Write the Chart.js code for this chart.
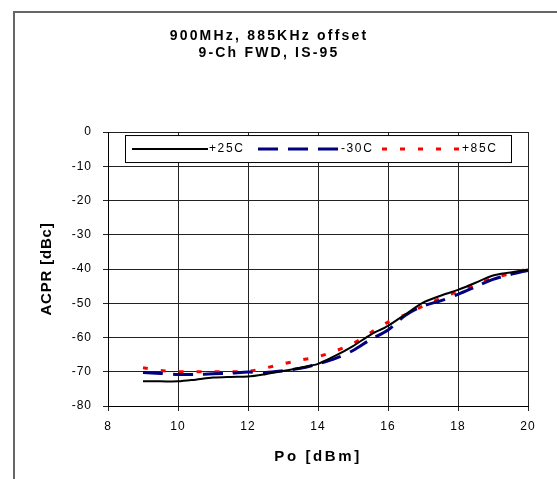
<!DOCTYPE html>
<html><head><meta charset="utf-8">
<script src="https://cdn.jsdelivr.net/npm/chart.js@4.4.0/dist/chart.umd.min.js"></script>
<style>html,body{margin:0;padding:0;background:#fff}#wrap{width:557px;height:479px;position:relative}</style>
</head><body><div id="wrap"><canvas id="c" width="557" height="479"></canvas></div>
<script>
const titleLines = ['900MHz, 885KHz offset', '9-Ch FWD, IS-95'];
const xAxisTitle = 'Po [dBm]';
const yAxisTitle = 'ACPR [dBc]';
const seriesLabels = ['+25C', '-30C', '+85C'];
const po = [9, 9.5, 10, 10.5, 11, 11.5, 12, 12.5, 13, 13.5, 14, 14.5, 15, 15.5, 16, 16.5, 17, 17.5, 18, 18.5, 19, 19.5, 20];
const acprP25 = [-72.8, -72.8, -72.8, -72.3, -71.7, -71.5, -71.4, -70.7, -69.8, -68.8, -67.7, -65.3, -62.5, -59.2, -56.6, -53.2, -49.8, -47.8, -46.1, -44.0, -41.9, -41.0, -40.1];
const acprM30 = [-70.2, -70.5, -70.8, -70.8, -70.6, -70.4, -70.1, -70.2, -69.7, -69.0, -67.7, -66.1, -63.8, -60.6, -57.8, -53.5, -50.8, -49.3, -47.4, -45.2, -43.0, -41.6, -40.4];
const acprP85 = [-68.8, -69.6, -70.0, -70.0, -70.0, -70.0, -69.9, -68.9, -67.7, -66.6, -65.6, -63.9, -61.8, -58.6, -55.5, -53.3, -50.8, -48.6, -46.5, -44.5, -42.7, -41.3, -40.0];
const xTickValues = [8, 10, 12, 14, 16, 18, 20];
const yTickValues = [0, -10, -20, -30, -40, -50, -60, -70, -80];

const FONT = "'Liberation Sans', Arial, sans-serif";
const toPts = ys => po.map((x, i) => ({x: x, y: ys[i]}));

const styles = [
  {color: '#000000', width: 2, dash: []},
  {color: '#000080', width: 3, dash: [20, 10]},
  {color: '#FF0000', width: 3, dash: [5, 13]}
];
const seriesData = [acprP25, acprM30, acprP85];

const frameAndSpacing = {
  id: 'frameAndSpacing',
  beforeDraw(chart) {
    const ctx = chart.ctx;
    ctx.save();
    ctx.fillStyle = '#fff';
    ctx.fillRect(0, 0, chart.width, chart.height);
    ctx.strokeStyle = '#666';
    ctx.lineWidth = 2;
    ctx.beginPath();
    ctx.moveTo(14, chart.height);
    ctx.lineTo(14, 12);
    ctx.lineTo(chart.width, 12);
    ctx.stroke();
    ctx.restore();
    const tb = chart.titleBlock;
    if (tb && !tb._wrapped) {
      const orig = tb.draw.bind(tb);
      tb.draw = function() { ctx.save(); ctx.letterSpacing = '2.2px'; orig(); ctx.restore(); };
      tb._wrapped = true;
    }
    [['x', '2.6px'], ['y', '0.8px']].forEach(([id, sp]) => {
      const s = chart.scales[id];
      if (s && !s._wrappedTitle) {
        const origT = s.drawTitle.bind(s);
        s.drawTitle = function() { ctx.save(); ctx.letterSpacing = sp; origT(); ctx.restore(); };
        const origL = s.drawLabels.bind(s);
        s.drawLabels = function(a) { ctx.save(); ctx.letterSpacing = '1px'; origL(a); ctx.restore(); };
        s._wrappedTitle = true;
      }
    });
  }
};

const boxLegend = {
  id: 'boxLegend',
  afterDatasetsDraw(chart) {
    const ctx = chart.ctx;
    const a = chart.chartArea;
    const L = a.left + 17, T = a.top + 3, R = a.right - 17, B = a.top + 30;
    ctx.save();
    ctx.fillStyle = '#fff';
    ctx.fillRect(L, T, R - L, B - T);
    ctx.strokeStyle = '#000';
    ctx.lineWidth = 1;
    ctx.strokeRect(L + 0.5, T + 0.5, R - L, B - T);
    const cy = (T + B) / 2 + 0.5;
    const starts = [L + 7, L + 133, L + 257];
    const lens = [76, 82, 78];
    ctx.font = '12px ' + FONT;
    ctx.letterSpacing = '1.6px';
    ctx.textBaseline = 'middle';
    ctx.fillStyle = '#000';
    chart.data.datasets.forEach((ds, i) => {
      const st = styles[i];
      ctx.beginPath();
      ctx.setLineDash(st.dash);
      ctx.lineWidth = st.width;
      ctx.strokeStyle = st.color;
      ctx.moveTo(starts[i], cy);
      ctx.lineTo(starts[i] + lens[i], cy);
      ctx.stroke();
      ctx.setLineDash([]);
      ctx.fillText(ds.label, starts[i] + lens[i] + (i === 2 ? 2 : 1), cy);
    });
    ctx.restore();
  }
};

new Chart(document.getElementById('c'), {
  type: 'line',
  data: {
    datasets: seriesLabels.map((lab, i) => ({
      label: lab,
      data: toPts(seriesData[i]),
      borderColor: styles[i].color,
      borderWidth: styles[i].width,
      borderDash: styles[i].dash,
      pointRadius: 0,
      fill: false,
      tension: 0.3,
      borderCapStyle: 'butt'
    }))
  },
  options: {
    responsive: false,
    animation: false,
    devicePixelRatio: 1,
    layout: {padding: {left: 10, right: 29, top: 0, bottom: 0}},
    plugins: {
      legend: {display: false},
      tooltip: {enabled: false},
      title: {
        display: true,
        text: titleLines,
        color: '#000',
        font: {family: FONT, size: 14, weight: 'bold', lineHeight: 1.18},
        padding: {top: 28, bottom: 71}
      }
    },
    scales: {
      x: {
        type: 'linear',
        min: 8, max: 20,
        afterBuildTicks: s => { s.ticks = xTickValues.map(v => ({value: v})); },
        afterFit: s => { s.height = 73; },
        grid: {color: '#222', lineWidth: 1, tickLength: 5, drawTicks: true},
        border: {color: '#000', width: 1},
        ticks: {color: '#000', padding: 8, maxRotation: 0, font: {family: FONT, size: 12}},
        title: {display: true, text: xAxisTitle, color: '#000', padding: {top: 0, bottom: 13}, font: {family: FONT, size: 15, weight: 'bold', lineHeight: 1.2}}
      },
      y: {
        type: 'linear',
        min: -80, max: 0,
        afterBuildTicks: s => { s.ticks = yTickValues.slice().reverse().map(v => ({value: v})); },
        afterFit: s => { s.width = 98; },
        grid: {color: '#222', lineWidth: 1, tickLength: 5, drawTicks: true},
        border: {color: '#000', width: 1},
        ticks: {color: '#000', padding: 11, font: {family: FONT, size: 12}},
        title: {display: true, text: yAxisTitle, color: '#000', padding: {top: 28, bottom: 0}, font: {family: FONT, size: 15, weight: 'bold', lineHeight: 1.2}}
      }
    }
  },
  plugins: [frameAndSpacing, boxLegend]
});
</script>
</body></html>
